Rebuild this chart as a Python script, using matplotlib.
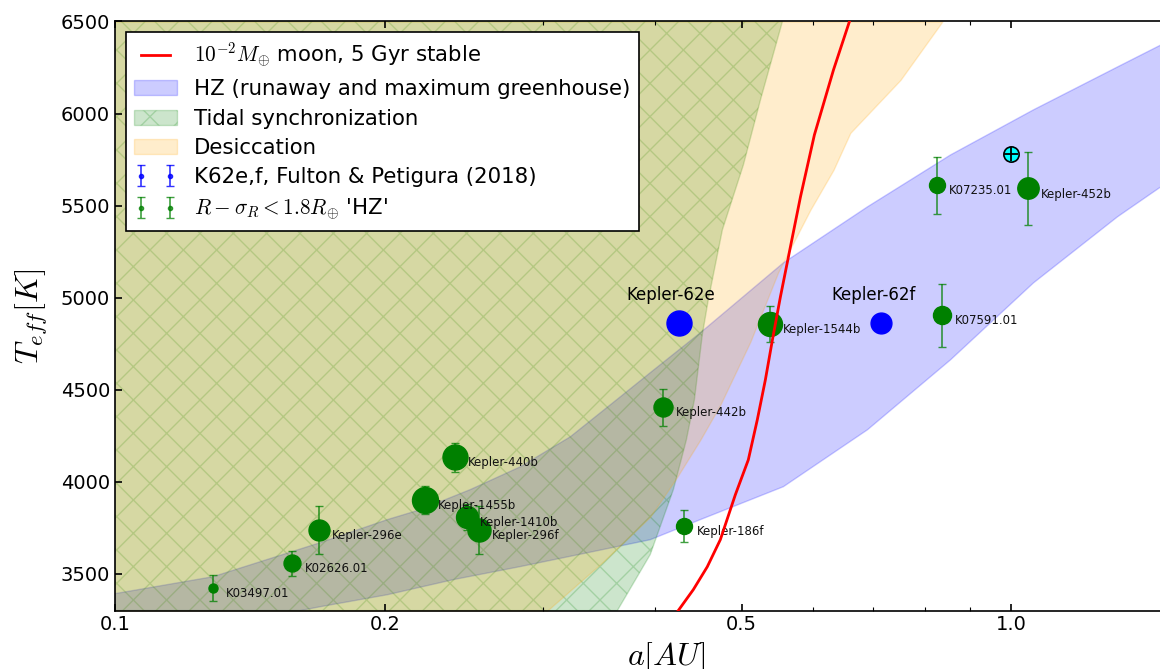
import numpy as np
import matplotlib
matplotlib.use("Agg")
import matplotlib.pyplot as plt
from matplotlib.ticker import FixedLocator, FixedFormatter, NullFormatter

plt.rcParams['font.family'] = ['DejaVu Sans']
plt.rcParams['mathtext.fontset'] = 'cm'
plt.rcParams['hatch.linewidth'] = 1.0

# ---------------- data ----------------
# HZ band: inner (runaway) edge, left to right
hz_inner_a = [0.100, 0.1286, 0.1694, 0.2012, 0.2190, 0.2490, 0.2832, 0.3220, 0.3661,
              0.3954, 0.4497, 0.5567, 0.6908, 0.8551, 1.0582, 1.3131, 1.470]
hz_inner_T = [3392, 3484, 3669, 3794, 3848, 3957, 4081, 4244, 4461,
              4592, 4809, 5189, 5493, 5775, 6020, 6253, 6374]
# HZ band: outer (maximum greenhouse) edge, right to left
hz_outer_a = [1.470, 1.3131, 1.0582, 0.8551, 0.6908, 0.5567, 0.4497, 0.3954, 0.3364,
              0.2832, 0.2384, 0.2012, 0.1694, 0.1609, 0.100]
hz_outer_T = [5604, 5439, 5080, 4662, 4282, 3973, 3794, 3685, 3614,
              3539, 3468, 3386, 3321, 3300, 3300]

# Tidal synchronization boundary (region to the left of it)
tidal_T = [3300, 3604, 3957, 4228, 4445, 4798, 4988, 5368, 5721, 6074, 6500]
tidal_a = [0.3634, 0.3954, 0.4196, 0.4339, 0.4429, 0.4520, 0.4590, 0.4759, 0.5023,
           0.5248, 0.5553]

# Desiccation boundary (region to the left of it)
desic_T = [3300, 3566, 3810, 4027, 4228, 4418, 4760, 5140, 5477, 5694, 5895, 6182, 6500]
desic_a = [0.3035, 0.3505, 0.3954, 0.4239, 0.4497, 0.4734, 0.5113, 0.5495, 0.5966,
           0.6331, 0.6611, 0.7518, 0.8375]

# 1e-2 Earth-mass moon, 5 Gyr stable
moon_a = [0.4249, 0.4417, 0.4578, 0.4734, 0.4920, 0.5087, 0.5206, 0.5315, 0.5412,
          0.5524, 0.5668, 0.5816, 0.6028, 0.6331, 0.6596]
moon_T = [3300, 3414, 3538, 3685, 3929, 4119, 4337, 4554, 4771,
          5004, 5276, 5547, 5884, 6237, 6500]

# HZ candidates with R - sigma_R < 1.8 R_earth
cand_names = ['K03497.01', 'K02626.01', 'Kepler-296e', 'Kepler-1455b', 'Kepler-440b',
              'Kepler-1410b', 'Kepler-296f', 'Kepler-442b', 'Kepler-186f', 'Kepler-1544b',
              'K07591.01', 'K07235.01', 'Kepler-452b']
cand_a = [0.1286, 0.1576, 0.169, 0.2218, 0.2396, 0.2471, 0.2549, 0.4089, 0.4315, 0.5383,
          0.8375, 0.8249, 1.044]
cand_T = [3422, 3558, 3737, 3900, 4133, 3808, 3737, 4405, 3759, 4855, 4904, 5610, 5593]
cand_Terr = [70, 68, 130, 75, 80, 70, 130, 100, 87, 98, 171, 155, 198]
cand_msize = [6.5, 12.2, 15.1, 18.7, 18.0, 15.8, 16.6, 13.7, 11.5, 17.3, 13.0, 11.5, 15.4]

# Kepler-62e,f (Fulton & Petigura 2018)
k62_names = ['Kepler-62e', 'Kepler-62f']
k62_a = [0.4262, 0.7161]
k62_T = [4861, 4861]
k62_Terr = [15, 15]
k62_msize = [18.0, 15.0]

# Earth
earth_a = [1.0]
earth_T = [5780]

# ---------------- figure ----------------
fig = plt.figure(figsize=(11.6, 6.69), dpi=100)
ax = fig.add_axes([0.09914, 0.0873, 0.9509, 0.8806])
ax.set_xscale('log')

ax.fill(hz_inner_a + hz_outer_a, hz_inner_T + hz_outer_T, facecolor='blue',
        edgecolor='blue', alpha=0.2, lw=1.0, zorder=1,
        label='HZ (runaway and maximum greenhouse)')
ax.fill_betweenx(tidal_T, 0.05, tidal_a, facecolor='green', edgecolor='green',
                 alpha=0.2, hatch='x', lw=1.0, zorder=1.1, label='Tidal synchronization')
ax.fill_betweenx(desic_T, 0.05, desic_a, facecolor='orange', edgecolor='orange',
                 alpha=0.2, lw=1.0, zorder=1.2, label='Desiccation')

ax.plot(moon_a, moon_T, color='red', lw=2, zorder=6,
        label=r'$10^{-2}M_{\oplus}$ moon, 5 Gyr stable')

ax.errorbar(k62_a, k62_T, yerr=k62_Terr, fmt='.', color='blue', ecolor='blue',
            elinewidth=1.2, capsize=3, alpha=0.8, zorder=3,
            label='K62e,f, Fulton & Petigura (2018)')
for a, T, ms in zip(k62_a, k62_T, k62_msize):
    ax.plot([a], [T], 'o', color='blue', mec='blue', ms=ms, zorder=4)

ax.errorbar(cand_a, cand_T, yerr=cand_Terr, fmt='.', color='green', ecolor='green',
            elinewidth=1.2, capsize=3, alpha=0.75, zorder=3,
            label=r"$R - \sigma_R < 1.8 R_{\oplus}$ 'HZ'")
for a, T, ms in zip(cand_a, cand_T, cand_msize):
    ax.plot([a], [T], 'o', color='green', mec='green', ms=ms, zorder=4)

for name, a, T in zip(cand_names, cand_a, cand_T):
    ax.annotate(name, (a, T), xytext=(9, -4), textcoords='offset points',
                fontsize=8.5, ha='left', va='center', color='#111111', zorder=5)
for name, a, T in zip(k62_names, k62_a, k62_T):
    ax.annotate(name, (a, T), xytext=(-6, 20), textcoords='offset points',
                fontsize=12, ha='center', va='center', color='black', zorder=5)

ax.plot(earth_a, earth_T, 'o', mfc='cyan', mec='black', ms=11, mew=1.2, zorder=7)
ax.plot(earth_a, earth_T, '+', color='black', ms=10, mew=1.3, zorder=8)

ax.set_xlim(0.1, 1.70)
ax.set_ylim(3300, 6500)
ax.xaxis.set_major_locator(FixedLocator([0.1, 0.2, 0.5, 1.0]))
ax.xaxis.set_major_formatter(FixedFormatter(['0.1', '0.2', '0.5', '1.0']))
ax.xaxis.set_minor_locator(FixedLocator([0.3, 0.4, 0.6, 0.7, 0.8, 0.9, 1.5]))
ax.xaxis.set_minor_formatter(NullFormatter())
ax.set_yticks([3500, 4000, 4500, 5000, 5500, 6000, 6500])

ax.tick_params(which='both', direction='in', top=True, right=True, labelsize=14)
ax.tick_params(which='major', length=5, width=1.2)
ax.tick_params(which='minor', length=3, width=0.8)
for s in ax.spines.values():
    s.set_linewidth(1.2)

ax.set_xlabel(r'$a[AU]$', fontsize=23, labelpad=4)
ax.set_ylabel(r'$T_{eff}[K]$', fontsize=23, labelpad=8)

handles, labels = ax.get_legend_handles_labels()
order = [labels.index(l) for l in [r'$10^{-2}M_{\oplus}$ moon, 5 Gyr stable',
                                   'HZ (runaway and maximum greenhouse)',
                                   'Tidal synchronization', 'Desiccation',
                                   'K62e,f, Fulton & Petigura (2018)',
                                   r"$R - \sigma_R < 1.8 R_{\oplus}$ 'HZ'"]]
leg = ax.legend([handles[i] for i in order], [labels[i] for i in order],
                loc='upper left', fontsize=15.3, numpoints=2, fancybox=False,
                framealpha=1, edgecolor='black', labelspacing=0.44,
                handlelength=2.0, handletextpad=0.8, borderpad=0.4,
                borderaxespad=0.5)
leg.get_frame().set_linewidth(1.2)
leg.set_zorder(10)

fig.savefig('out.png', dpi=100)
